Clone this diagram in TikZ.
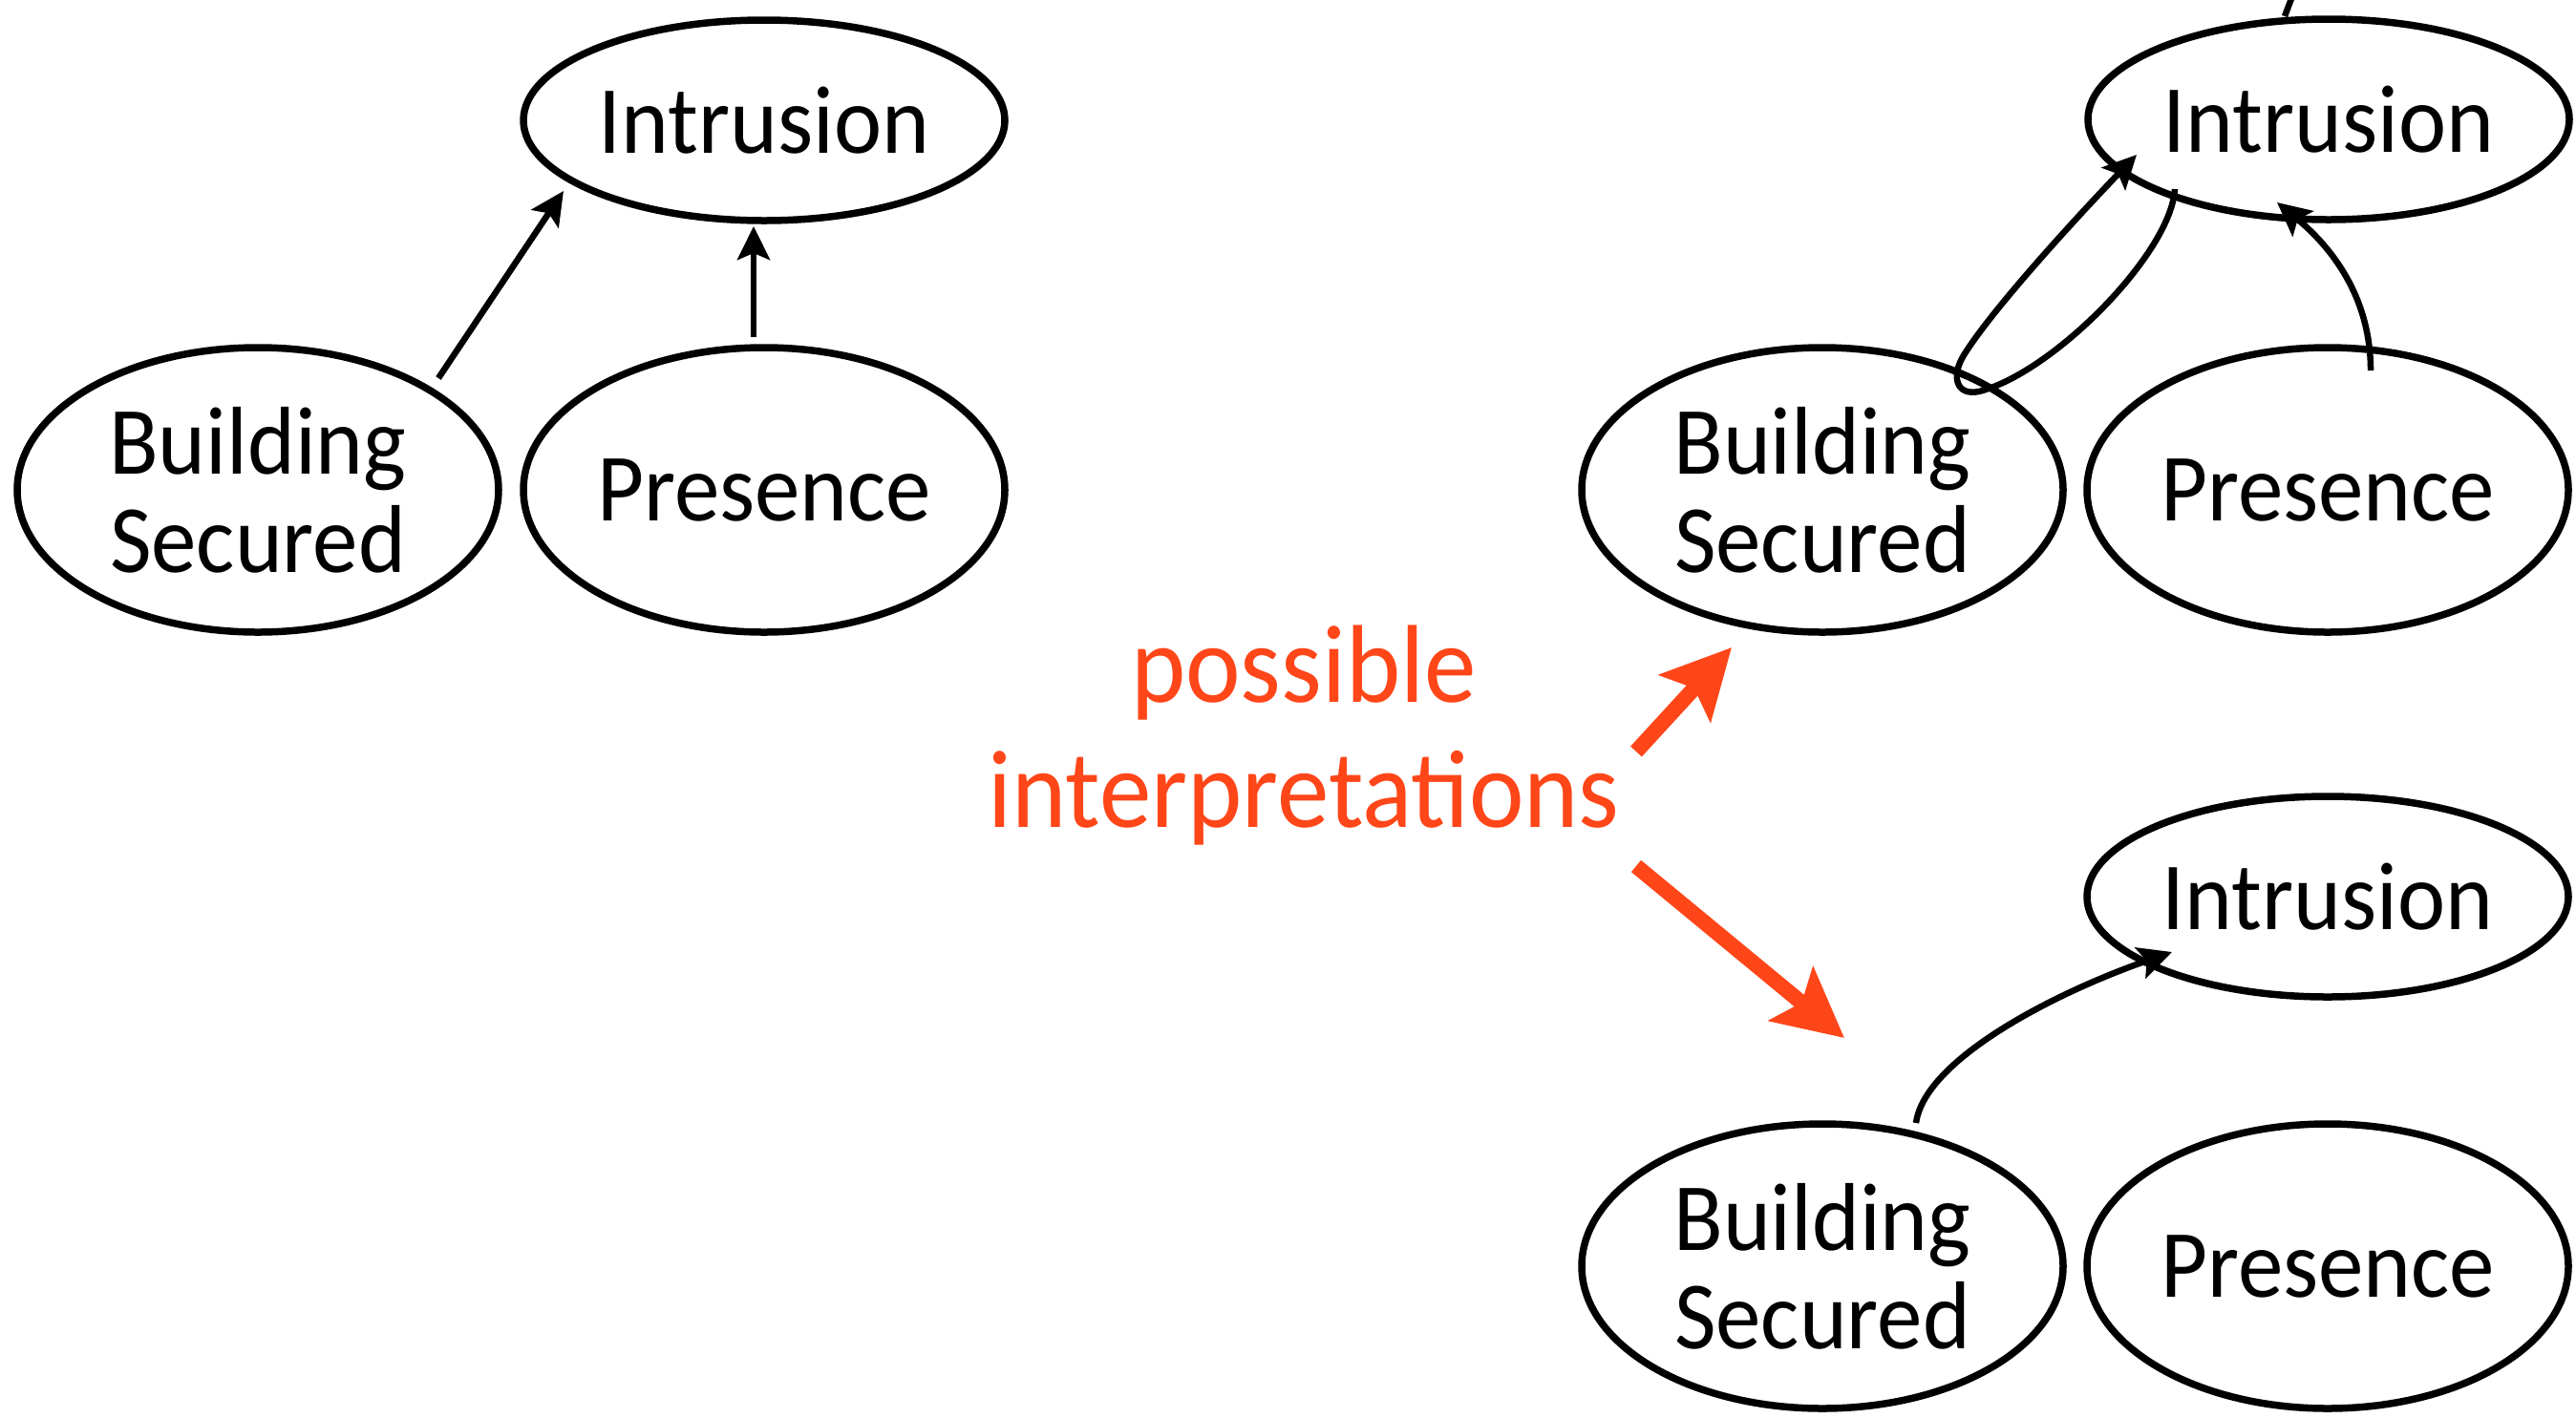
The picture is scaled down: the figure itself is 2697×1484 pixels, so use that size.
\documentclass[tikz,border=0pt]{standalone}
\usepackage{fontspec}
\setmainfont{Carlito}
\newfontfamily\nodefont{Carlito}[FakeStretch=0.94]
\usetikzlibrary{arrows.meta,shapes.geometric}
\definecolor{redc}{RGB}{255,70,25}
\begin{document}
\begin{tikzpicture}[x=1pt,y=-1pt,
  bub/.style={draw, ellipse, line width=7.5pt, minimum width=504pt, minimum height=298pt,
    inner sep=0pt, align=center, font=\nodefont\fontsize{101}{103}\selectfont},
  topbub/.style={bub, minimum height=210pt},
  conn/.style={line width=6.5pt, -{Stealth[length=35pt,width=34pt,inset=7pt]}},
  plain/.style={line width=6.5pt},
  bigarrow/.style={draw=redc, line width=16pt, -{Stealth[length=72pt,width=72pt,inset=14pt]}},
  redtext/.style={text=redc, inner sep=0pt, font=\nodefont\fontsize{116}{131}\selectfont}]
\useasboundingbox (0,0) rectangle (2697,1484);
% left group
\node[topbub] (int1) at (800,126) {Intrusion};
\node[bub] (bs1) at (270,513) {Building\\Secured};
\node[bub] (pr1) at (800,513) {Presence};
% right top group
\node[topbub] (int2) at (2438,125) {Intrusion};
\node[bub] (bs2) at (1908,513) {Building\\Secured};
\node[bub] (pr2) at (2437,513) {Presence};
% right bottom group
\node[topbub] (int3) at (2437,939) {Intrusion};
\node[bub] (bs3) at (1908,1326) {Building\\Secured};
\node[bub] (pr3) at (2437,1326) {Presence};
% red label
\node[redtext, anchor=base] (t1) at (1365,735) {possible};
\node[redtext, anchor=base] (t2) at (1365,866) {interpretations};
% left connectors
\draw[conn] ([shift={(189,-117)}]bs1.center) -- ([shift={(-210,74)}]int1.center);
\draw[conn] ([shift={(-11,-160)}]pr1.center) -- ([shift={(-11,111)}]int1.center);
% right top connectors
\coordinate (offtop) at (2403,-12);
\draw[plain] ([shift={(-46,-108)}]int2.center) -- (offtop);
\draw[conn] ([shift={(-161,73)}]int2.center) .. controls (2273,265) and (2150,390) .. (2072,410)
  .. controls (2047,415) and (2043,393) .. (2056,372)
  .. controls (2085,325) and (2170,232) .. ([shift={(-201,37)}]int2.center);
\draw[conn] ([shift={(45,-125)}]pr2.center) .. controls (2482,310) and (2440,258) .. ([shift={(-54,87)}]int2.center);
% right bottom connector
\draw[conn] ([shift={(98,-150)}]bs3.center) .. controls (2015,1110) and (2150,1040) .. ([shift={(-163,58)}]int3.center);
% red arrows
\coordinate (r1a) at (1713,787);
\coordinate (r1b) at (1813,678);
\coordinate (r2a) at (1713,907);
\coordinate (r2b) at (1931,1087);
\draw[bigarrow] (r1a) -- (r1b);
\draw[bigarrow] (r2a) -- (r2b);
\end{tikzpicture}
\end{document}
